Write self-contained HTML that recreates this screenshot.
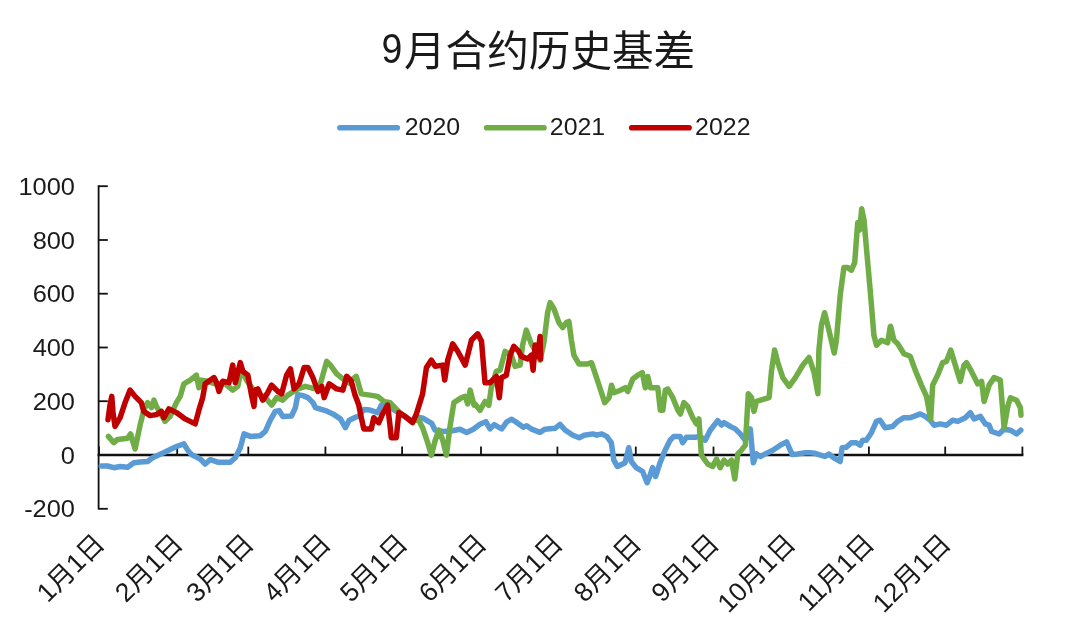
<!DOCTYPE html>
<html lang="zh-CN">
<head>
<meta charset="utf-8">
<title>9月合约历史基差</title>
<style>
html,body{margin:0;padding:0;background:#ffffff;}
body{width:1080px;height:639px;overflow:hidden;font-family:"Liberation Sans","Noto Sans CJK SC",sans-serif;}
svg{display:block;}
text{font-family:"Liberation Sans","Noto Sans CJK SC",sans-serif;fill:#1a1a1a;}
.ser{fill:none;stroke-width:5.5;stroke-linejoin:round;stroke-linecap:round;}
.ax{stroke:#111;stroke-width:1.8;fill:none;}
</style>
</head>
<body>
<svg width="1080" height="639" viewBox="0 0 1080 639">
<rect x="0" y="0" width="1080" height="639" fill="#ffffff"/>
<text x="381.6" y="62.9" font-size="41.6" fill="#1a1a1a"><tspan x="381.6" y="62.9" textLength="20.8" lengthAdjust="spacingAndGlyphs">9</tspan><tspan x="404" y="65.5">月合约历史基差</tspan></text>
<line x1="339.9" y1="127.7" x2="397.3" y2="127.7" stroke="#5b9bd5" stroke-width="5.6" stroke-linecap="round"/>
<text transform="translate(404.7,135) scale(1.03,1)" font-size="24.2">2020</text>
<line x1="486.6" y1="127.7" x2="544.0" y2="127.7" stroke="#70ad47" stroke-width="5.6" stroke-linecap="round"/>
<text transform="translate(549.8,135) scale(1.03,1)" font-size="24.2">2021</text>
<line x1="631.7" y1="127.7" x2="689.1" y2="127.7" stroke="#c00000" stroke-width="5.6" stroke-linecap="round"/>
<text transform="translate(695.1,135) scale(1.03,1)" font-size="24.2">2022</text>
<line class="ax" x1="98.6" y1="185.3" x2="98.6" y2="509.6"/>
<line class="ax" x1="98.6" y1="186.2" x2="107.8" y2="186.2"/>
<text transform="translate(75,194.8) scale(1.05,1)" font-size="24.2" text-anchor="end">1000</text>
<line class="ax" x1="98.6" y1="240.0" x2="107.8" y2="240.0"/>
<text transform="translate(75,248.6) scale(1.05,1)" font-size="24.2" text-anchor="end">800</text>
<line class="ax" x1="98.6" y1="293.7" x2="107.8" y2="293.7"/>
<text transform="translate(75,302.3) scale(1.05,1)" font-size="24.2" text-anchor="end">600</text>
<line class="ax" x1="98.6" y1="347.5" x2="107.8" y2="347.5"/>
<text transform="translate(75,356.1) scale(1.05,1)" font-size="24.2" text-anchor="end">400</text>
<line class="ax" x1="98.6" y1="401.2" x2="107.8" y2="401.2"/>
<text transform="translate(75,409.8) scale(1.05,1)" font-size="24.2" text-anchor="end">200</text>
<line class="ax" x1="98.6" y1="455.0" x2="107.8" y2="455.0"/>
<text transform="translate(75,463.6) scale(1.05,1)" font-size="24.2" text-anchor="end">0</text>
<line class="ax" x1="98.6" y1="508.8" x2="107.8" y2="508.8"/>
<text transform="translate(75,517.4) scale(1.05,1)" font-size="24.2" text-anchor="end">-200</text>
<line x1="97.6" y1="455.0" x2="1023.4" y2="455.0" stroke="#111" stroke-width="2.7"/>
<line class="ax" x1="99.0" y1="455.0" x2="99.0" y2="446.6" stroke-width="1.9"/>
<line class="ax" x1="177.2" y1="455.0" x2="177.2" y2="446.6" stroke-width="1.9"/>
<line class="ax" x1="248.3" y1="455.0" x2="248.3" y2="446.6" stroke-width="1.9"/>
<line class="ax" x1="325.4" y1="455.0" x2="325.4" y2="446.6" stroke-width="1.9"/>
<line class="ax" x1="402.1" y1="455.0" x2="402.1" y2="446.6" stroke-width="1.9"/>
<line class="ax" x1="481.0" y1="455.0" x2="481.0" y2="446.6" stroke-width="1.9"/>
<line class="ax" x1="557.4" y1="455.0" x2="557.4" y2="446.6" stroke-width="1.9"/>
<line class="ax" x1="635.8" y1="455.0" x2="635.8" y2="446.6" stroke-width="1.9"/>
<line class="ax" x1="713.5" y1="455.0" x2="713.5" y2="446.6" stroke-width="1.9"/>
<line class="ax" x1="790.0" y1="455.0" x2="790.0" y2="446.6" stroke-width="1.9"/>
<line class="ax" x1="868.9" y1="455.0" x2="868.9" y2="446.6" stroke-width="1.9"/>
<line class="ax" x1="945.2" y1="455.0" x2="945.2" y2="446.6" stroke-width="1.9"/>
<line class="ax" x1="1022.4" y1="455.0" x2="1022.4" y2="446.6" stroke-width="1.9"/>
<polyline class="ser" stroke="#5b9bd5" points="101.3,466.0 107.5,466.0 113.8,467.7 120.1,466.5 127.6,467.2 133.8,462.7 140.1,462.0 147.6,461.5 152.6,457.7 165.1,452.0 176.4,446.5 183.9,443.9 187.7,450.2 191.4,454.5 200.2,459.0 205.2,464.0 210.2,459.7 217.7,462.2 230.2,462.2 235.3,457.7 240.3,447.7 244.0,433.9 250.3,436.4 260.3,435.7 265.3,431.4 270.3,420.2 275.3,411.4 279.1,410.6 282.8,416.4 291.6,415.9 295.4,407.6 297.9,394.6 302.9,395.6 307.9,397.6 312.9,402.6 315.4,407.6 325.4,410.6 332.9,413.9 340.4,418.9 345.4,427.7 349.2,420.2 355.5,417.2 358.8,416.4 363.8,409.6 370.1,410.1 377.6,412.6 381.3,405.1 386.3,404.6 390.1,407.6 401.5,414.4 411.5,421.0 417.5,417.2 423.3,418.3 431.7,423.3 435,430 443,431.5 452.5,430.8 460,429.2 466.7,432.5 473.3,429.2 480,424.2 485.8,421.7 490,428.8 494.2,424.6 501.7,429.0 506.7,421.9 511.7,419.2 516.7,422.5 523.3,427.3 526.7,425.8 531.7,429.2 540,432.3 545,429.2 555,428.3 560,424.4 565,430 572.9,435.2 579.2,437.7 584.2,435.2 592.9,433.9 596.7,435.2 601.7,433.9 606.7,436.4 611.3,442.7 613.8,460.2 617.5,466.5 625.1,462.7 628.8,447.7 631.3,461.5 636.3,467.7 642.6,471.5 647.1,482.7 650.1,475.2 652.6,467.7 655.6,476.5 660.1,462.7 665.1,450.2 670.1,440.2 673.9,436.4 680.2,436.4 682.7,442.7 686.4,437.2 695.2,437.2 700.2,436.4 705.2,440.2 710.2,430.2 717.7,420.6 721.5,425.1 724.0,422.6 730.2,426.4 735.3,428.9 740.3,433.9 745.3,440.2 750.3,428.9 753.3,462.7 756.5,453.9 760.3,456.5 765.3,453.9 772.8,450.2 780.3,445.2 786.6,441.8 792.2,454.6 797.9,453.9 805.4,452.7 810.0,452.7 815.0,453.3 821.3,455.3 825.0,456.5 828.8,454.0 833.8,457.8 840.1,461.5 842.1,447.7 846.3,447.2 851.3,442.7 856.3,442.7 860.1,445.2 862.6,440.2 866.3,440.2 871.4,432.7 876.4,421.4 880.1,420.2 885.1,427.7 892.6,426.5 897.7,421.4 903.9,417.7 910.2,417.7 913.9,416.4 920.2,413.9 925.2,416.4 930.2,420.2 934.0,425.2 940.2,423.9 946.5,425.2 952.7,420.2 957.8,421.4 965.3,417.7 970.3,412.7 974.0,418.9 980.3,416.4 985.3,423.9 989.1,425.2 991.6,431.5 999.1,434.0 1004.1,429.0 1010.4,430.2 1016.6,434.0 1020.8,430.2"/>
<polyline class="ser" stroke="#70ad47" points="108.4,436.4 113.8,442.7 117.5,439.4 127.6,438.2 130.6,433.9 135.1,449.0 140.1,425.2 143.8,410.1 147.6,402.6 151.4,407.6 153.9,400.1 156.4,406.4 160.1,412.6 165.1,421.4 170.1,416.4 176.4,402.6 180.2,396.4 183.9,383.8 190.2,380.1 196.4,375.1 198.9,387.6 201.4,380.1 207.7,381.3 215.2,383.8 225.2,383.8 232.7,390.1 237.8,386.3 241.5,368.8 246.5,380.1 255.3,392.6 265.3,397.6 271.6,405.1 276.6,397.6 282.8,400.1 287.8,395.1 297.9,388.9 305.4,386.3 315.4,388.9 320.4,383.8 326.7,361.3 330.4,365.1 336.7,373.8 342.9,378.8 350.5,383.8 351.3,380.1 356.3,376.3 361.3,393.9 370.1,395.1 377.6,396.4 383.8,401.4 390.1,402.6 401.0,413.8 411.5,421.0 418.3,419.3 422.6,427.7 427.7,442.7 431.4,455.2 435.2,440.2 438.9,430.2 442.7,440.2 446.4,455.2 450.2,425.2 453.9,402.6 461.5,397.6 465.2,396.4 467.7,403.9 470.2,390.1 474.0,405.1 475.0,404.0 480.0,410.3 485.0,401.5 488.8,405.3 491.3,387.7 496.3,371.4 500.0,370.2 505.1,351.4 511.3,355.2 515.1,366.4 520.1,365.2 522.6,345.1 526.3,330.1 531.3,343.9 535.1,350.2 540.1,360.2 543.9,342.6 547.6,312.6 550.1,302.6 553.9,308.8 558.9,322.6 562.7,327.6 566.4,322.6 568.9,321.4 571.4,340.1 573.9,355.2 578.9,363.9 587.7,363.9 591.5,362.7 594.0,370.2 599.0,385.2 604.7,402.7 609.0,397.7 611.5,385.2 614.0,392.7 620.3,390.2 625.3,387.7 627.8,391.5 632.8,379.0 637.8,375.2 642.3,372.7 645.3,387.7 647.8,376.5 650.3,387.7 657.8,387.7 660.3,410.3 662.8,410.3 665.3,390.2 667.8,389.0 672.8,397.7 677.9,410.3 680.4,414.0 683.9,402.6 687.7,406.4 692.7,417.6 696.4,423.9 698.9,418.9 701.4,455.2 707.7,464.0 712.7,466.5 716.5,459.0 720.2,467.7 724.0,460.2 727.7,464.0 731.5,460.2 734.8,479.0 737.8,453.9 741.5,450.2 745.3,445.2 748.3,393.8 751.5,397.6 754.0,411.4 756.5,401.4 769.1,397.6 771.6,370.1 774.6,350.0 777.8,362.5 782.8,377.6 789.1,386.3 795.4,377.6 802.9,365.0 809.1,357.5 814.1,372.6 817.9,393.8 818.9,350.0 821.4,325.2 824.6,312.7 828.9,330.2 834.2,353.0 836.4,340.3 840.2,295.2 843.9,267.6 847.7,267.6 851.4,270.1 854.7,262.6 857.7,222.6 859.7,230.1 861.7,208.8 864.0,220.1 866.6,250.1 870.2,290.2 873.9,335.3 876.5,345.3 881.5,340.3 887.7,342.8 890.3,326.5 890.6,326.3 893.9,340.1 897.7,343.8 903.9,353.8 910.2,356.3 915.2,370.1 921.4,385.1 926.5,396.4 930.7,418.9 932.7,385.1 937.7,375.1 942.7,362.6 946.5,361.3 950.7,350.1 955.3,365.1 960.3,381.4 964.0,365.1 966.5,362.6 971.5,371.4 977.8,383.9 981.6,381.4 984.1,401.4 989.1,385.1 994.1,377.6 1000.3,380.1 1004.1,427.7 1007.8,406.4 1010.4,397.7 1016.6,400.2 1020.4,407.7 1021.0,415.2"/>
<polyline class="ser" stroke="#c00000" points="108.0,419.7 110.0,405.1 111.8,396.4 113.0,412.6 115.0,426.4 120.1,417.7 125.1,402.6 130.1,390.1 135.1,396.4 141.3,402.6 143.8,411.4 150.1,415.6 156.4,414.6 161.4,411.4 163.9,417.7 168.9,408.9 176.4,412.6 185.2,418.9 195.2,423.9 198.9,410.1 202.7,397.6 205.2,383.8 214.0,377.6 216.5,382.6 219.0,391.4 222.7,381.3 229.0,382.6 232.7,365.1 235.3,382.6 237.8,372.6 240.3,362.6 242.8,371.3 247.8,375.1 251.5,395.1 254.0,406.4 255.3,390.1 257.8,388.9 262.8,400.1 267.8,392.6 271.6,385.1 277.8,391.4 281.6,393.9 286.6,375.1 290.4,368.8 294.1,388.9 299.1,383.8 304.1,367.6 307.9,367.6 312.9,377.6 317.9,391.4 321.7,386.3 324.2,397.6 329.2,383.8 336.7,388.9 342.9,390.1 346.7,376.3 350.5,380.1 351.3,381.3 355.0,395.1 358.8,405.1 361.3,417.7 363.8,428.9 371.3,428.9 373.8,417.7 378.8,422.7 382.6,413.9 387.6,405.1 390.1,426.4 391.3,437.7 396.3,437.7 398.9,412.6 405.1,416.4 412.6,422.7 416.4,413.9 422.6,393.9 426.4,367.6 431.4,360.1 435.2,366.3 442.7,365.1 444.7,380.1 447.7,360.1 452.7,343.8 457.7,351.3 465.2,365.1 471.5,340.0 477.7,333.8 481.5,341.3 485.0,382.7 490.0,382.7 496.3,376.5 499.3,397.7 501.3,377.7 506.3,375.2 510.1,355.2 513.8,346.4 518.8,351.4 521.3,356.4 527.6,358.9 531.3,355.2 533.1,370.2 535.1,345.1 537.6,356.4 540.1,336.4 540.6,358.9"/>
<text transform="translate(106.2,545.2) rotate(-45)" font-size="26.5" text-anchor="end">1月1日</text>
<text transform="translate(184.4,545.2) rotate(-45)" font-size="26.5" text-anchor="end">2月1日</text>
<text transform="translate(255.5,545.2) rotate(-45)" font-size="26.5" text-anchor="end">3月1日</text>
<text transform="translate(332.6,545.2) rotate(-45)" font-size="26.5" text-anchor="end">4月1日</text>
<text transform="translate(409.3,545.2) rotate(-45)" font-size="26.5" text-anchor="end">5月1日</text>
<text transform="translate(488.2,545.2) rotate(-45)" font-size="26.5" text-anchor="end">6月1日</text>
<text transform="translate(564.6,545.2) rotate(-45)" font-size="26.5" text-anchor="end">7月1日</text>
<text transform="translate(643.0,545.2) rotate(-45)" font-size="26.5" text-anchor="end">8月1日</text>
<text transform="translate(720.7,545.2) rotate(-45)" font-size="26.5" text-anchor="end">9月1日</text>
<text transform="translate(797.2,545.2) rotate(-45)" font-size="26.5" text-anchor="end">10月1日</text>
<text transform="translate(876.1,545.2) rotate(-45)" font-size="26.5" text-anchor="end">11月1日</text>
<text transform="translate(952.4,545.2) rotate(-45)" font-size="26.5" text-anchor="end">12月1日</text>
</svg>
</body>
</html>
